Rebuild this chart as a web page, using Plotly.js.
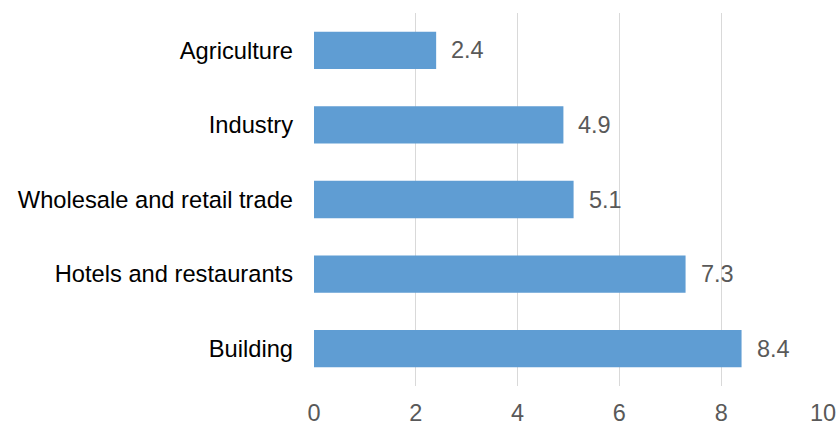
<!DOCTYPE html>
<html>
<head>
<meta charset="utf-8">
<script src="https://cdn.plot.ly/plotly-3.0.1.min.js"></script>
<style>
  html, body { margin: 0; padding: 0; background: #ffffff; }
  #chart { width: 837px; height: 423px; }
</style>
</head>
<body>
<div id="chart"></div>
<script>
// Sectors, listed top to bottom
const sectors = ["Agriculture", "Industry", "Wholesale and retail trade", "Hotels and restaurants", "Building"];
const values = [2.4, 4.9, 5.1, 7.3, 8.4];
const xTicks = [0, 2, 4, 6, 8, 10];

const fontFamily = "Liberation Sans, Arial, sans-serif";

const trace = {
  type: "bar",
  orientation: "h",
  y: sectors,
  x: values,
  marker: { color: "#5f9dd3" },
  hoverinfo: "x+y"
};

// Value labels placed just past the end of each bar
const labels = sectors.map((s, i) => ({
  x: values[i],
  y: s,
  xref: "x",
  yref: "y",
  text: values[i].toFixed(1),
  showarrow: false,
  xanchor: "left",
  xshift: 13,
  font: { family: fontFamily, size: 23.5, color: "#595959" }
}));

const layout = {
  width: 837,
  height: 423,
  margin: { l: 314, r: 14, t: 13, b: 37 },
  paper_bgcolor: "#ffffff",
  plot_bgcolor: "#ffffff",
  showlegend: false,
  bargap: 0.5,
  xaxis: {
    range: [0, 10],
    tickvals: xTicks,
    ticktext: xTicks.map(String),
    showgrid: true,
    gridcolor: "#d9d9d9",
    gridwidth: 1,
    zeroline: false,
    showline: false,
    ticks: "",
    ticklabelstandoff: 10,
    tickfont: { family: fontFamily, size: 23.5, color: "#595959" }
  },
  yaxis: {
    autorange: "reversed",
    showgrid: false,
    zeroline: false,
    showline: false,
    ticks: "",
    ticklabelstandoff: 20,
    tickfont: { family: fontFamily, size: 23.7, color: "#000000" }
  },
  annotations: labels
};

Plotly.newPlot("chart", [trace], layout, { displayModeBar: false, staticPlot: true });
</script>
</body>
</html>
